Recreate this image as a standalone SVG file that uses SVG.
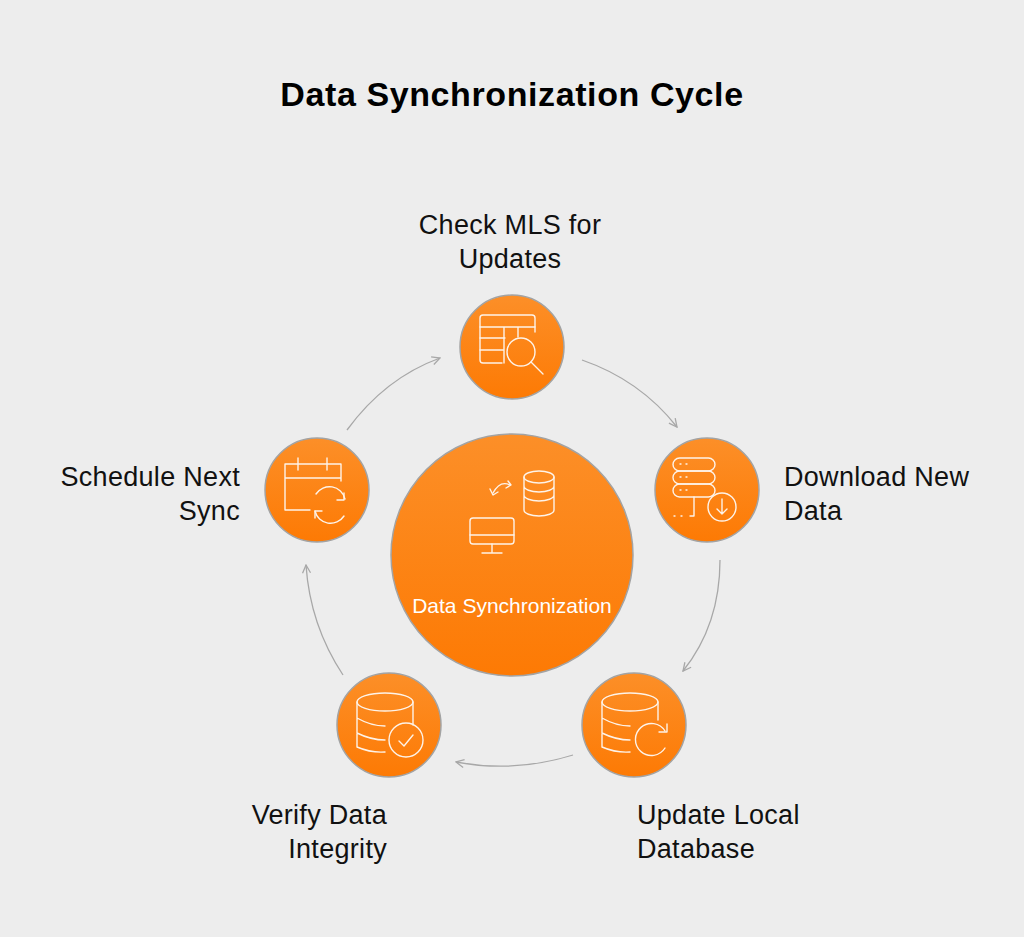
<svg xmlns="http://www.w3.org/2000/svg" width="1024" height="937" viewBox="0 0 1024 937">
<defs>
<linearGradient id="og" x1="0" y1="0" x2="0" y2="1"><stop offset="0" stop-color="#fc8f28"/><stop offset="1" stop-color="#fd7a04"/></linearGradient>
<marker id="ah" viewBox="0 0 10 10" refX="9" refY="5" markerWidth="10" markerHeight="10" orient="auto" markerUnits="userSpaceOnUse"><path d="M1,1 L9,5 L1,9" fill="none" stroke="#a8a8a8" stroke-width="1.3"/></marker>
<style>
.n{fill:url(#og);stroke:#a3a3a3;stroke-width:1.5}
.ic{fill:none;stroke:#fff;stroke-width:1.4;stroke-linecap:round;stroke-linejoin:round;opacity:.9}
.lb{font-family:"Liberation Sans",Arial,sans-serif;font-size:27px;fill:#111;letter-spacing:0.3px}
.c{fill:none;stroke:#a8a8a8;stroke-width:1.3}
</style>
</defs>
<rect width="1024" height="937" fill="#ededed"/>
<text x="512" y="106" text-anchor="middle" font-family="Liberation Sans,Arial,sans-serif" font-weight="bold" font-size="34" letter-spacing="0.6" fill="#000">Data Synchronization Cycle</text>
<g id="connectors">
<path class="c" d="M347,430 Q385,378 440,358" marker-end="url(#ah)"/>
<path class="c" d="M582,360 Q640,380 677,427" marker-end="url(#ah)"/>
<path class="c" d="M720,560 Q720,625 683,671" marker-end="url(#ah)"/>
<path class="c" d="M573,755 Q515,773 456,762" marker-end="url(#ah)"/>
<path class="c" d="M343,675 Q310,625 306,565" marker-end="url(#ah)"/>
</g>
<g id="center">
<circle class="n" cx="512" cy="555" r="121"/>
<g class="ic">
<path d="M510,485 Q500,480 493,493"/><path d="M490,489 L493,495 L498,492"/>
<path d="M508,481 L511,485 L506,488"/>
<ellipse cx="539" cy="477" rx="15" ry="6"/><path d="M524,477 V510 A15,6 0 0 0 554,510 V477 M524,486 A15,6 0 0 0 554,486 M524,495 A15,6 0 0 0 554,495"/>
<rect x="470" y="518" width="44" height="26" rx="3"/><path d="M470,535 H514 M492,544 V552 M482,553 H502"/>
</g>
<text x="512" y="613" text-anchor="middle" font-family="Liberation Sans,Arial,sans-serif" font-size="21" fill="#fff">Data Synchronization</text>
</g>
<g id="n1">
<circle class="n" cx="512" cy="347" r="52"/>
<g class="ic"><path d="M502,363 H483 A3,3 0 0 1 480,360 V318 A3,3 0 0 1 483,315 H532 A3,3 0 0 1 535,318 V332"/><path d="M480,327 H535 M480,338 H505 M480,350 H503 M504,327 V363 M518,327 V337"/><circle cx="521" cy="352" r="14"/><path d="M531,362 L543,374"/></g>
<text class="lb" x="510" y="234" text-anchor="middle">Check MLS for</text><text class="lb" x="510" y="268" text-anchor="middle">Updates</text>
</g>
<g id="n2">
<circle class="n" cx="707" cy="490" r="52"/>
<g class="ic"><rect x="673" y="458" width="42" height="13" rx="6.5"/><rect x="673" y="471" width="42" height="13" rx="6.5"/><rect x="673" y="484" width="42" height="13" rx="6.5"/><path d="M680,464 h1 M686,464 h1 M680,477 h1 M686,477 h1 M680,490 h1 M686,490 h1 M674,516 h1 M681,516 h1 M690,516 h4 V497"/><circle cx="722" cy="507" r="14"/><path d="M722,499 V514 M717,509 L722,514 L727,509"/></g>
<text class="lb" x="784" y="486">Download New</text><text class="lb" x="784" y="520">Data</text>
</g>
<g id="n3">
<circle class="n" cx="634" cy="725" r="52"/>
<g class="ic"><ellipse cx="630" cy="702" rx="28" ry="9"/><path d="M602,702 V747 Q616,753 630,752 M602,718 Q616,726 630,726 M602,733 Q616,740 630,740 M658,702 V720"/><path d="M665,731 A16,16 0 1 0 665,748"/><path d="M667,724 V732 H659"/></g>
<text class="lb" x="637" y="824">Update Local</text><text class="lb" x="637" y="858">Database</text>
</g>
<g id="n4">
<circle class="n" cx="389" cy="725" r="52"/>
<g class="ic"><ellipse cx="385" cy="702" rx="28" ry="9"/><path d="M357,702 V747 Q371,753 385,752 M357,718 Q371,726 385,726 M357,733 Q371,740 385,740 M413,702 V725"/><circle cx="406" cy="740" r="17"/><path d="M399,741 L404,746 L413,735"/></g>
<text class="lb" x="387" y="824" text-anchor="end">Verify Data</text><text class="lb" x="387" y="858" text-anchor="end">Integrity</text>
</g>
<g id="n5">
<circle class="n" cx="317" cy="490" r="52"/>
<g class="ic"><path d="M310,510 H285 V464 H341 V481 M285,478 H341 M298,458 V470 M327,458 V470"/><path d="M345,499 A16,16 0 0 0 316,494 M315,511 A16,16 0 0 0 344,516"/><path d="M344,493 V500 H337 M315,518 V511 H322"/></g>
<text class="lb" x="240" y="486" text-anchor="end">Schedule Next</text><text class="lb" x="240" y="520" text-anchor="end">Sync</text>
</g>
</svg>
